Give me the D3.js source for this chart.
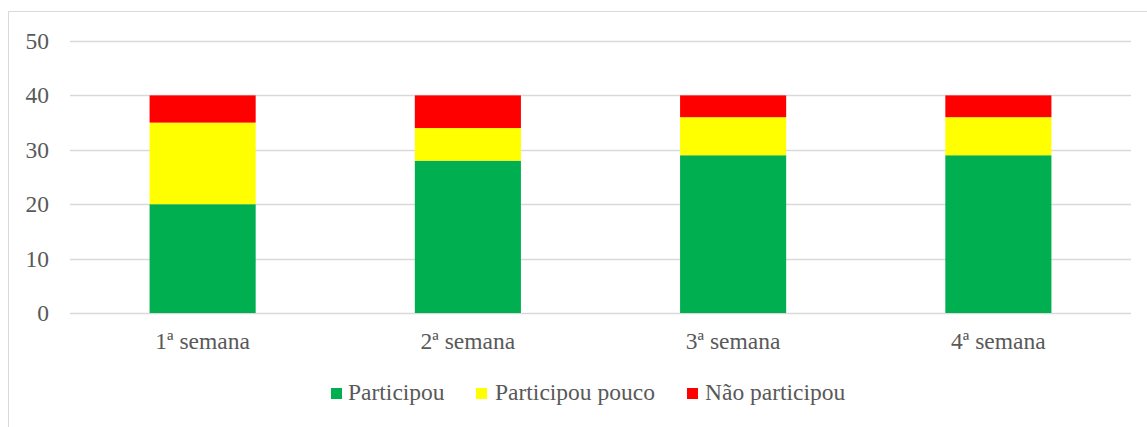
<!DOCTYPE html>
<html>
<head>
<meta charset="utf-8">
<script src="https://cdn.jsdelivr.net/npm/d3@7"></script>
<style>
  body { margin: 0; background: #fff; }
</style>
</head>
<body>
<div id="chart-area"></div>
<script>
// Data
var weeks = ["1ª semana", "2ª semana", "3ª semana", "4ª semana"];
var participou = [20, 28, 29, 29];
var participouPouco = [15, 6, 7, 7];
var naoParticipou = [5, 6, 4, 4];
var seriesNames = ["Participou", "Participou pouco", "Não participou"];
var seriesColors = ["#00B050", "#FFFF00", "#FF0000"];
var yTicks = [0, 10, 20, 30, 40, 50];

var FONT = "'Liberation Serif', 'Times New Roman', serif";
var W = 1147, H = 427;
var margin = { left: 70, right: 16, top: 41, bottom: 114 };
var width = W - margin.left - margin.right,
    height = H - margin.top - margin.bottom;

var svg = d3.select("#chart-area")
    .append("svg")
    .attr("width", W)
    .attr("height", H);

function styleText(sel) {
    sel.style("font-family", FONT)
        .style("font-size", "23.5px")
        .style("fill", "#595959");
}

// outer border (chart area frame)
svg.append("rect")
    .attr("x", 8.5).attr("y", 11.5)
    .attr("width", W + 20).attr("height", H + 20)
    .attr("fill", "none")
    .attr("stroke", "#d9d9d9")
    .attr("stroke-width", 1);

var g = svg.append("g")
    .attr("transform", "translate(" + margin.left + "," + margin.top + ")");

// Scales
var x = d3.scaleBand()
    .domain(weeks)
    .range([0, width])
    .paddingInner(0.6)
    .paddingOuter(0.3);
var y = d3.scaleLinear()
    .domain([0, 50])
    .range([height, 0]);

// Grid lines
g.selectAll(".grid")
    .data(yTicks)
    .enter().append("line")
    .attr("class", "grid")
    .attr("x1", 0).attr("x2", width)
    .attr("y1", function(d){ return Math.round(y(d)) + 0.5; })
    .attr("y2", function(d){ return Math.round(y(d)) + 0.5; })
    .attr("stroke", "#d9d9d9")
    .attr("stroke-width", 1.3);

// Stack the series
var table = weeks.map(function(w, i){
    return { week: w, a: participou[i], b: participouPouco[i], c: naoParticipou[i] };
});
var stack = d3.stack().keys(["a", "b", "c"])(table);

g.selectAll(".series")
    .data(stack)
    .enter().append("g")
    .attr("fill", function(d, i){ return seriesColors[i]; })
    .selectAll("rect")
    .data(function(d){ return d; })
    .enter().append("rect")
    .attr("x", function(d){ return x(d.data.week); })
    .attr("width", x.bandwidth())
    .attr("y", function(d){ return y(d[1]); })
    .attr("height", function(d){ return y(d[0]) - y(d[1]); });

// Y axis
var yAxisCall = d3.axisLeft(y).tickValues(yTicks).tickSize(0).tickPadding(21);
var yAxis = g.append("g").call(yAxisCall);
yAxis.select(".domain").remove();
styleText(yAxis.selectAll("text"));

// X axis
var xAxisCall = d3.axisBottom(x).tickSize(0).tickPadding(19);
var xAxis = g.append("g")
    .attr("transform", "translate(0," + height + ")")
    .call(xAxisCall);
xAxis.select(".domain").remove();
styleText(xAxis.selectAll("text"));

// Legend
var legendSquareX = [331, 476, 687];
var legendTextX = [348, 495, 705];
var legend = svg.append("g");
seriesNames.forEach(function(name, i){
    legend.append("rect")
        .attr("x", legendSquareX[i]).attr("y", 388)
        .attr("width", 11).attr("height", 11)
        .attr("fill", seriesColors[i]);
    styleText(legend.append("text")
        .attr("x", legendTextX[i]).attr("y", 400)
        .text(name));
});
</script>
</body>
</html>
